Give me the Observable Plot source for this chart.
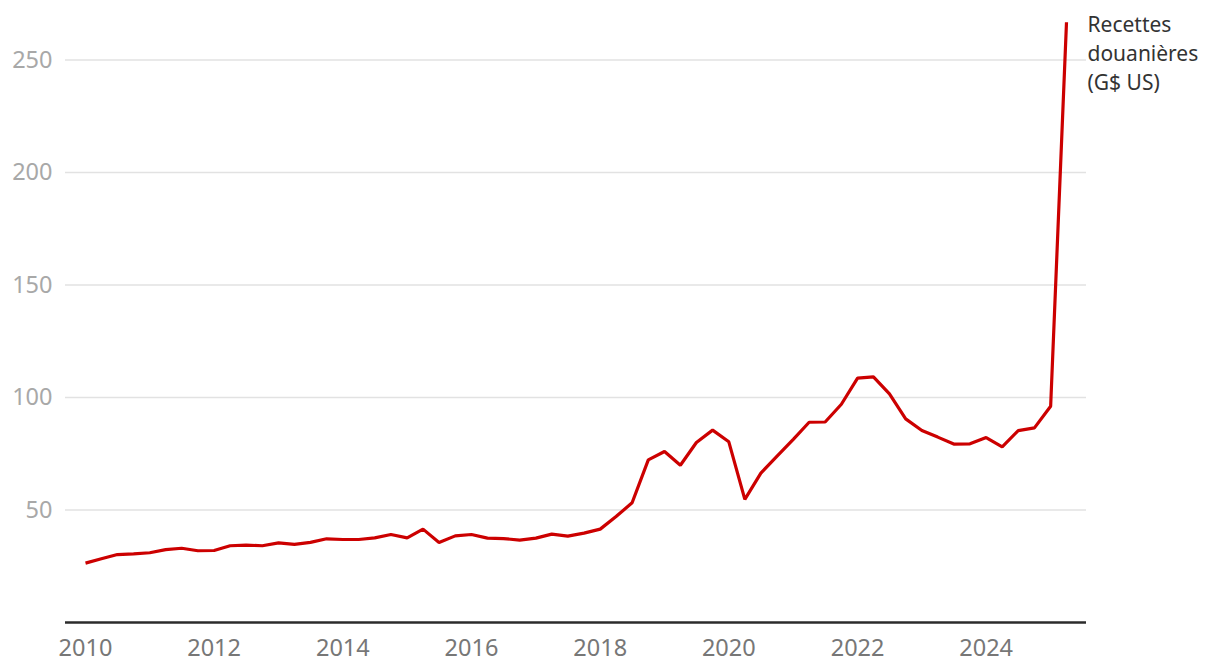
<!DOCTYPE html>
<html>
<head>
<meta charset="utf-8">
<script src="https://cdn.jsdelivr.net/npm/d3@7"></script>
<script src="https://cdn.jsdelivr.net/npm/@observablehq/plot@0.6"></script>
<style>
  html, body { margin: 0; padding: 0; background: #fff; }
  #chart svg { display: block; font-family: "Noto Sans", sans-serif; }
  #chart g[aria-label="y-axis tick label"] text { font-size: 23.5px; }
  #chart g[aria-label="x-axis tick label"] text { font-size: 23.5px; }
</style>
</head>
<body>
<div id="chart"></div>
<script>
// Quarterly customs revenue (G$ US), Q1 2010 – Q2 2025
const firstYear = 2010;
const values = [
  26.4, 28.3, 30.2, 30.5,
  31.0, 32.4, 33.0, 31.9,
  32.0, 34.1, 34.4, 34.1,
  35.4, 34.7, 35.6, 37.2,
  36.9, 36.9, 37.6, 39.1,
  37.6, 41.5, 35.6, 38.5,
  39.1, 37.5, 37.3, 36.6,
  37.5, 39.3, 38.4, 39.7,
  41.5, 47.1, 53.2, 72.3,
  76.0, 69.9, 80.0, 85.5,
  80.3, 54.7, 66.4, 73.9,
  81.4, 89.0, 89.1, 97.0,
  108.6, 109.2, 101.6, 90.5,
  85.3, 82.4, 79.3, 79.4,
  82.2, 78.1, 85.3, 86.5,
  96.1, 266.8
];
const quarters = values.map((_, i) => new Date(Date.UTC(firstYear + Math.floor(i / 4), (i % 4) * 3, 1)));
const yTicks = [50, 100, 150, 200, 250];
const xTickYears = [2010, 2012, 2014, 2016, 2018, 2020, 2022, 2024];
const seriesLabel = "Recettes\ndouanières\n(G$ US)";

const data = values.map((v, i) => ({date: quarters[i], value: v}));
const last = data[data.length - 1];

const chart = Plot.plot({
  width: 1220,
  height: 672,
  marginTop: 14.5,
  marginBottom: 50,
  marginLeft: 65,
  marginRight: 134,
  insetLeft: 20,
  insetRight: 20,
  style: {fontFamily: "Noto Sans, sans-serif", background: "#fff"},
  x: {type: "utc", domain: [quarters[0], quarters[quarters.length - 1]]},
  y: {domain: [0, 270]},
  marks: [
    Plot.gridY(yTicks, {stroke: "#e2e2e2", strokeOpacity: 1, strokeWidth: 1.5}),
    Plot.axisY(yTicks, {tickSize: 0, tickPadding: 13, fontSize: 23.5, fill: "#a8a8a8", label: null}),
    Plot.axisX(xTickYears.map(y => new Date(Date.UTC(y, 0, 1))), {
      tickSize: 0, tickPadding: 17, fontSize: 23.5, fill: "#777", label: null,
      tickFormat: d3.utcFormat("%Y")
    }),
    Plot.ruleY([0], {stroke: "#2b2b2b", strokeWidth: 2.5}),
    Plot.line(data, {x: "date", y: "value", stroke: "#cc0000", strokeWidth: 3.2, strokeLinejoin: "miter", strokeLinecap: "butt"}),
    Plot.text([last], {
      x: "date", y: "value", text: () => seriesLabel,
      dx: 21, dy: -10.5, textAnchor: "start", lineAnchor: "top", lineHeight: 1.37,
      fontSize: 21, fill: "#333"
    })
  ]
});
document.getElementById("chart").appendChild(chart);
</script>
</body>
</html>
